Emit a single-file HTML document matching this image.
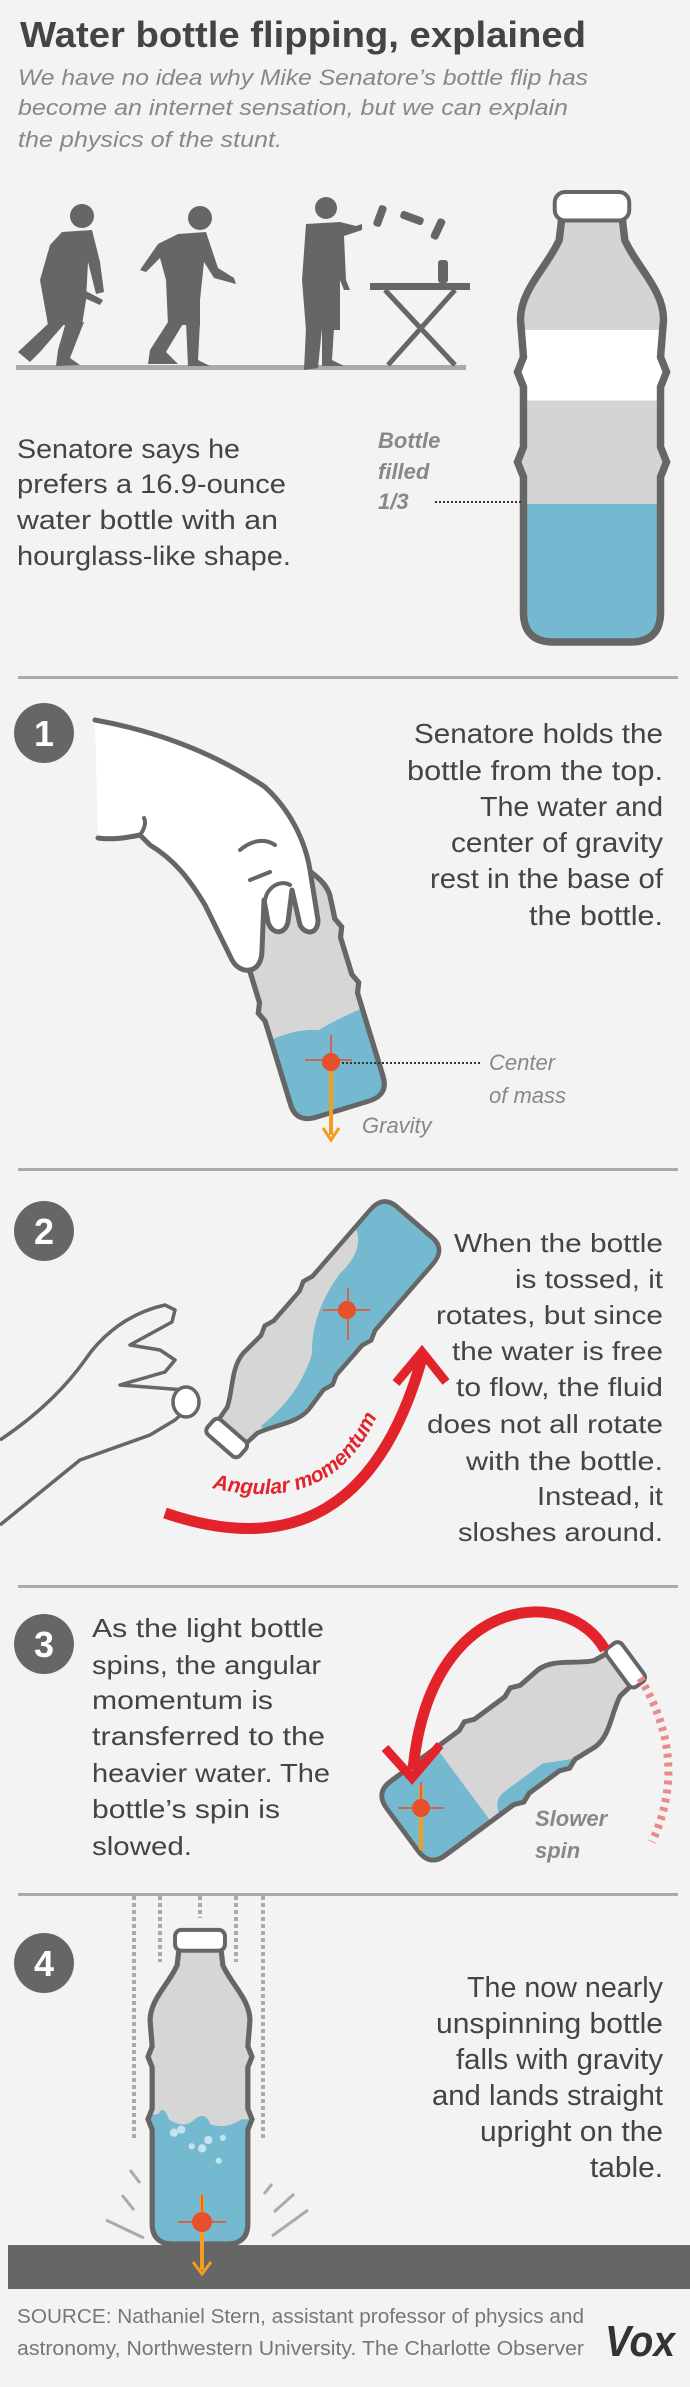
<!DOCTYPE html>
<html><head><meta charset="utf-8"><style>
html,body{margin:0;padding:0;background:#f2f3f2;}
svg{display:block;}
text{font-family:"Liberation Sans",sans-serif;}
</style></head><body>
<svg width="690" height="2387" viewBox="0 0 690 2387" xmlns="http://www.w3.org/2000/svg">
<defs>
<path id="bp" d="M -20,-135 L 20,-135 L 22,-118 C 30,-100 48,-85 48,-65 L 46,-40 L 50,-30 L 46,-20 L 46,20 L 50,30 L 46,40 L 46,130 Q 46,150 26,150 L -26,150 Q -46,150 -46,130 L -46,40 L -50,30 L -46,20 L -46,-20 L -50,-30 L -46,-40 L -48,-65 C -48,-85 -30,-100 -22,-118 Z"/>
<clipPath id="bc"><use href="#bp"/></clipPath>
</defs>
<rect width="690" height="2387" fill="#f2f3f2"/>

<text x="20" y="47" font-size="36" font-weight="bold" fill="#444" textLength="566" lengthAdjust="spacingAndGlyphs">Water bottle flipping, explained</text>
<g font-size="22" font-style="italic" fill="#888">
<text x="18" y="85" textLength="570" lengthAdjust="spacingAndGlyphs">We have no idea why Mike Senatore’s bottle flip has</text>
<text x="18" y="115" textLength="550" lengthAdjust="spacingAndGlyphs">become an internet sensation, but we can explain</text>
<text x="18" y="147" textLength="264" lengthAdjust="spacingAndGlyphs">the physics of the stunt.</text>
</g>

<g fill="#666">
<rect x="16" y="365" width="450" height="5" fill="#aaa"/>
<circle cx="82" cy="216" r="12"/>
<path d="M62,232 L92,230 L100,262 L104,292 L96,294 L88,262 L86,300 L82,325 L48,325 L40,280 L50,245 Z"/>
<path d="M84,290 L103,300 L100,305 L82,297 Z"/>
<path d="M50,322 L66,322 L40,352 L30,362 L18,352 Z"/>
<path d="M66,322 L84,322 L70,358 L80,365 L56,366 L58,350 Z"/>
<circle cx="200" cy="218" r="12"/>
<path d="M178,234 L206,232 L218,268 L234,278 L236,284 L214,278 L204,262 L200,300 L200,325 L168,325 L166,280 L160,258 L146,272 L140,270 L158,244 Z"/>
<path d="M168,322 L184,322 L166,352 L178,364 L148,364 L150,350 Z"/>
<path d="M186,322 L200,322 L198,360 L210,366 L188,366 Z"/>
<circle cx="326" cy="208" r="11"/>
<path d="M306,224 L340,222 L356,226 L362,224 L362,230 L344,236 L346,280 L350,290 L344,290 L340,280 L340,330 L306,330 L302,280 Z"/>
<path d="M306,328 L322,328 L318,368 L304,370 Z"/>
<path d="M322,328 L334,328 L332,360 L344,366 L322,366 Z"/>
<rect x="370" y="283" width="100" height="7"/>
<path d="M385,290 L455,365 M455,290 L388,365" stroke="#666" stroke-width="5" fill="none"/>
<rect x="438" y="260" width="10" height="23" rx="3"/>
<rect x="376" y="205" width="8" height="22" rx="3" transform="rotate(20 380 216)"/>
<rect x="408" y="206" width="8" height="24" rx="3" transform="rotate(-70 412 218)"/>
<rect x="434" y="218" width="8" height="22" rx="3" transform="rotate(25 438 229)"/>
</g>

<g transform="translate(592,417) scale(1.49,1.5)">
<use href="#bp" fill="#d4d4d4"/>
<g clip-path="url(#bc)">
<rect x="-60" y="58" width="120" height="100" fill="#74b9cf"/>
<rect x="-60" y="-58" width="120" height="47" fill="#fff"/>
</g>
<use href="#bp" fill="none" stroke="#666" stroke-width="5" vector-effect="non-scaling-stroke"/>
<rect x="-25" y="-150" width="50" height="19" rx="7" fill="#fff" stroke="#666" stroke-width="4" vector-effect="non-scaling-stroke"/>
</g>

<g font-size="27" fill="#444">
<text x="17" y="458" textLength="223" lengthAdjust="spacingAndGlyphs">Senatore says he</text>
<text x="17" y="493" textLength="269" lengthAdjust="spacingAndGlyphs">prefers a 16.9-ounce</text>
<text x="17" y="529" textLength="261" lengthAdjust="spacingAndGlyphs">water bottle with an</text>
<text x="17" y="565" textLength="274" lengthAdjust="spacingAndGlyphs">hourglass-like shape.</text>
</g>
<g font-size="22" font-style="italic" font-weight="bold" fill="#888">
<text x="378" y="448">Bottle</text>
<text x="378" y="479">filled</text>
<text x="378" y="509">1/3</text>
</g>
<line x1="435" y1="502" x2="522" y2="502" stroke="#333" stroke-width="2" stroke-dasharray="2 2"/>

<rect x="18" y="676" width="660" height="3" fill="#aaa"/>

<g font-size="28" fill="#444">
<text x="414" y="743" textLength="249" lengthAdjust="spacingAndGlyphs">Senatore holds the</text>
<text x="407" y="780" textLength="256" lengthAdjust="spacingAndGlyphs">bottle from the top.</text>
<text x="480" y="816" textLength="183" lengthAdjust="spacingAndGlyphs">The water and</text>
<text x="451" y="852" textLength="212" lengthAdjust="spacingAndGlyphs">center of gravity</text>
<text x="430" y="888" textLength="233" lengthAdjust="spacingAndGlyphs">rest in the base of</text>
<text x="529" y="925" textLength="134" lengthAdjust="spacingAndGlyphs">the bottle.</text>
</g>
<g transform="translate(300,970) rotate(-17) scale(1.05,0.97)">
<use href="#bp" fill="#d6d6d6"/>
<g clip-path="url(#bc)"><path d="M-60,62 Q-20,55 0,65 Q25,58 60,55 L60,160 L-60,160 Z" fill="#74b9cf"/></g>
<use href="#bp" fill="none" stroke="#666" stroke-width="5" vector-effect="non-scaling-stroke"/>
</g>
<path d="M95,720 C150,730 210,750 265,787 C290,810 305,840 310,870 L318,920 C318,935 305,935 300,925 L292,890 L288,922 C285,935 272,935 268,922 L264,900 L262,950 C262,975 240,975 232,960 L205,905 C190,880 175,860 150,845 L140,835 C125,838 112,840 98,838 Z" fill="#fff"/>
<path d="M95,720 C150,730 210,750 265,787 C290,810 305,840 310,870 L318,920 C318,935 305,935 300,925 L292,890 L288,922 C285,935 272,935 268,922 L264,900 L262,950 C262,975 240,975 232,960 L205,905 C190,880 175,860 150,845 L140,835 C125,838 112,840 98,838" fill="none" stroke="#666" stroke-width="5" stroke-linejoin="round" stroke-linecap="round"/>
<path d="M140,835 C145,828 146,822 144,818 M250,880 L270,872 M240,850 C252,840 265,838 275,845 M265,900 C268,885 282,880 290,885" stroke="#666" stroke-width="4" fill="none" stroke-linecap="round"/>
<circle cx="44" cy="733" r="30" fill="#666"/>
<text x="44" y="746" font-size="36" font-weight="bold" fill="#fff" text-anchor="middle">1</text>
<line x1="331" y1="1035" x2="331" y2="1090" stroke="#e8502a" stroke-width="1.5"/>
<line x1="305" y1="1060" x2="352" y2="1060" stroke="#e8502a" stroke-width="1.5"/>
<line x1="331" y1="1068" x2="331" y2="1135" stroke="#f39c1f" stroke-width="4"/>
<path d="M323,1128 L331,1140 L339,1128" stroke="#f39c1f" stroke-width="3" fill="none"/>
<circle cx="331" cy="1062" r="9" fill="#e8502a"/>
<line x1="342" y1="1063" x2="480" y2="1063" stroke="#333" stroke-width="2" stroke-dasharray="2 2"/>
<g font-size="22" font-style="italic" fill="#888">
<text x="489" y="1070">Center</text>
<text x="489" y="1103">of mass</text>
<text x="362" y="1133">Gravity</text>
</g>

<rect x="18" y="1168" width="660" height="3" fill="#aaa"/>

<circle cx="44" cy="1231" r="30" fill="#666"/>
<text x="44" y="1244" font-size="36" font-weight="bold" fill="#fff" text-anchor="middle">2</text>
<g font-size="26" fill="#444">
<text x="454" y="1252" textLength="209" lengthAdjust="spacingAndGlyphs">When the bottle</text>
<text x="515" y="1288" textLength="148" lengthAdjust="spacingAndGlyphs">is tossed, it</text>
<text x="436" y="1324" textLength="227" lengthAdjust="spacingAndGlyphs">rotates, but since</text>
<text x="452" y="1360" textLength="211" lengthAdjust="spacingAndGlyphs">the water is free</text>
<text x="456" y="1396" textLength="207" lengthAdjust="spacingAndGlyphs">to flow, the fluid</text>
<text x="427" y="1433" textLength="236" lengthAdjust="spacingAndGlyphs">does not all rotate</text>
<text x="466" y="1470" textLength="197" lengthAdjust="spacingAndGlyphs">with the bottle.</text>
<text x="537" y="1505" textLength="126" lengthAdjust="spacingAndGlyphs">Instead, it</text>
<text x="458" y="1541" textLength="205" lengthAdjust="spacingAndGlyphs">sloshes around.</text>
</g>
<path d="M0,1440 C30,1420 60,1395 85,1360 C95,1345 120,1315 165,1305 L175,1310 L172,1322 L130,1345 L160,1350 L175,1360 L165,1372 L120,1385 L185,1390 L195,1402 L175,1420 L150,1435 L80,1460 L0,1525" fill="none" stroke="#666" stroke-width="3.5" stroke-linejoin="round"/>
<ellipse cx="186" cy="1402" rx="13" ry="15" fill="#fff" stroke="#666" stroke-width="3.5"/>
<g transform="translate(318,1333) rotate(-139) scale(0.9,0.98)">
<use href="#bp" fill="#d6d6d6"/>
<g clip-path="url(#bc)"><path d="M-60,160 L-60,110 Q-20,105 -25,60 Q-20,10 10,-20 Q30,-60 20,-110 L60,-110 L60,160 Z" fill="#74b9cf" transform="scale(-1,1)"/></g>
<use href="#bp" fill="none" stroke="#666" stroke-width="5" vector-effect="non-scaling-stroke"/>
<rect x="-24" y="-152" width="48" height="20" rx="6" fill="#fff" stroke="#666" stroke-width="4" vector-effect="non-scaling-stroke"/>
</g>
<line x1="348" y1="1288" x2="348" y2="1340" stroke="#e8502a" stroke-width="1.5"/>
<line x1="323" y1="1310" x2="370" y2="1310" stroke="#e8502a" stroke-width="1.5"/>
<circle cx="347" cy="1310" r="9" fill="#e8502a"/>
<path d="M165,1513 Q360,1580 422,1358" fill="none" stroke="#e3232b" stroke-width="11"/>
<path d="M396,1383 L422,1352 L446,1382" fill="none" stroke="#e3232b" stroke-width="9"/>
<path id="arct" d="M212,1488 Q350,1520 388,1385" fill="none"/>
<text font-size="21" font-weight="bold" font-style="italic" fill="#e3232b"><textPath href="#arct">Angular momentum</textPath></text>

<rect x="18" y="1585" width="660" height="3" fill="#aaa"/>

<circle cx="44" cy="1644" r="30" fill="#666"/>
<text x="44" y="1657" font-size="36" font-weight="bold" fill="#fff" text-anchor="middle">3</text>
<g font-size="26" fill="#444">
<text x="92" y="1637" textLength="232" lengthAdjust="spacingAndGlyphs">As the light bottle</text>
<text x="92" y="1674" textLength="229" lengthAdjust="spacingAndGlyphs">spins, the angular</text>
<text x="92" y="1709" textLength="181" lengthAdjust="spacingAndGlyphs">momentum is</text>
<text x="92" y="1745" textLength="233" lengthAdjust="spacingAndGlyphs">transferred to the</text>
<text x="92" y="1782" textLength="238" lengthAdjust="spacingAndGlyphs">heavier water. The</text>
<text x="92" y="1818" textLength="188" lengthAdjust="spacingAndGlyphs">bottle’s spin is</text>
<text x="92" y="1855" textLength="100" lengthAdjust="spacingAndGlyphs">slowed.</text>
</g>
<g transform="translate(517,1745) rotate(53.5) scale(1,0.95)">
<use href="#bp" fill="#d6d6d6"/>
<g clip-path="url(#bc)"><path d="M60,160 L60,60 Q30,60 30,40 L30,-10 Q40,-30 45,-40 L60,-40 Z M-60,70 L60,70 L60,160 L-60,160 Z" fill="#74b9cf"/></g>
<use href="#bp" fill="none" stroke="#666" stroke-width="5" vector-effect="non-scaling-stroke"/>
<rect x="-24" y="-152" width="48" height="20" rx="6" fill="#fff" stroke="#666" stroke-width="4" vector-effect="non-scaling-stroke"/>
</g>
<path d="M605,1650 C570,1585 430,1590 413,1770" fill="none" stroke="#e3232b" stroke-width="11"/>
<path d="M385,1748 L412,1778 L440,1745" fill="none" stroke="#e3232b" stroke-width="9"/>
<path d="M640,1678 Q690,1760 652,1842" fill="none" stroke="#ec8a8a" stroke-width="8" stroke-dasharray="4 5"/>
<line x1="421" y1="1785" x2="421" y2="1850" stroke="#f39c1f" stroke-width="4"/>
<line x1="421" y1="1782" x2="421" y2="1810" stroke="#e8502a" stroke-width="1.5"/>
<line x1="398" y1="1808" x2="444" y2="1808" stroke="#e8502a" stroke-width="1.5"/>
<circle cx="421" cy="1808" r="9" fill="#e8502a"/>
<g font-size="22" font-style="italic" font-weight="bold" fill="#888">
<text x="535" y="1826">Slower</text>
<text x="535" y="1858">spin</text>
</g>

<rect x="18" y="1893" width="660" height="3" fill="#aaa"/>

<circle cx="44" cy="1963" r="30" fill="#666"/>
<text x="44" y="1976" font-size="36" font-weight="bold" fill="#fff" text-anchor="middle">4</text>
<g stroke="#aaa" stroke-width="4" stroke-dasharray="4 3" fill="none">
<line x1="134" y1="1896" x2="134" y2="2138"/>
<line x1="160" y1="1896" x2="160" y2="1962"/>
<line x1="200" y1="1896" x2="200" y2="1918"/>
<line x1="236" y1="1896" x2="236" y2="1962"/>
<line x1="263" y1="1896" x2="263" y2="2138"/>
</g>
<g transform="translate(200,2088) scale(1.04,1.04)">
<use href="#bp" fill="#d6d6d6"/>
<g clip-path="url(#bc)"><path d="M-60,160 L-60,28 L-40,25 Q-35,15 -30,30 Q-15,40 -5,30 Q5,22 10,35 Q25,40 40,30 L60,30 L60,160 Z" fill="#74b9cf"/></g>
<g fill="#c4e3ee"><circle cx="-25" cy="43" r="4"/><circle cx="-18" cy="40" r="4"/><circle cx="8" cy="50" r="4"/><circle cx="2" cy="58" r="4"/><circle cx="-8" cy="56" r="3"/><circle cx="22" cy="48" r="3"/><circle cx="18" cy="70" r="3"/></g>
<use href="#bp" fill="none" stroke="#666" stroke-width="5" vector-effect="non-scaling-stroke"/>
<rect x="-24" y="-152" width="48" height="20" rx="6" fill="#fff" stroke="#666" stroke-width="4" vector-effect="non-scaling-stroke"/>
</g>
<g stroke="#aaa" stroke-width="3">
<line x1="130" y1="2170" x2="140" y2="2183"/><line x1="122" y1="2195" x2="134" y2="2210"/><line x1="106" y1="2220" x2="144" y2="2238"/>
<line x1="272" y1="2184" x2="264" y2="2194"/><line x1="294" y1="2194" x2="274" y2="2212"/><line x1="308" y1="2210" x2="272" y2="2236"/>
</g>
<rect x="8" y="2245" width="682" height="44" fill="#666"/>
<line x1="202" y1="2195" x2="202" y2="2270" stroke="#f39c1f" stroke-width="4"/>
<path d="M193,2262 L202,2274 L211,2262" stroke="#f39c1f" stroke-width="3" fill="none"/>
<line x1="202" y1="2195" x2="202" y2="2230" stroke="#e8502a" stroke-width="1.5"/>
<line x1="178" y1="2222" x2="226" y2="2222" stroke="#e8502a" stroke-width="1.5"/>
<circle cx="202" cy="2222" r="10" fill="#e8502a"/>
<g font-size="29" fill="#444">
<text x="467" y="1997" textLength="196" lengthAdjust="spacingAndGlyphs">The now nearly</text>
<text x="436" y="2033" textLength="227" lengthAdjust="spacingAndGlyphs">unspinning bottle</text>
<text x="456" y="2069" textLength="207" lengthAdjust="spacingAndGlyphs">falls with gravity</text>
<text x="432" y="2105" textLength="231" lengthAdjust="spacingAndGlyphs">and lands straight</text>
<text x="480" y="2141" textLength="183" lengthAdjust="spacingAndGlyphs">upright on the</text>
<text x="590" y="2177" textLength="73" lengthAdjust="spacingAndGlyphs">table.</text>
</g>
<g font-size="20" fill="#777">
<text x="17" y="2323" textLength="567" lengthAdjust="spacingAndGlyphs">SOURCE: Nathaniel Stern, assistant professor of physics and</text>
<text x="17" y="2355" textLength="567" lengthAdjust="spacingAndGlyphs">astronomy, Northwestern University. The Charlotte Observer</text>
</g>
<text x="605" y="2356" font-family="Liberation Serif, serif" font-size="44" font-weight="bold" font-style="italic" fill="#333" textLength="70" lengthAdjust="spacingAndGlyphs">Vox</text>
</svg>
</body></html>
